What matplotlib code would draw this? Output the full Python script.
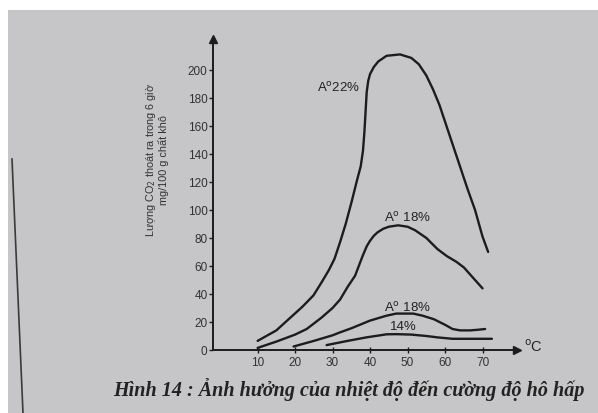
import numpy as np
import matplotlib
matplotlib.use('Agg')
import matplotlib.pyplot as plt
from matplotlib.patches import Rectangle
from matplotlib.lines import Line2D

# data (temperature in oC, CO2 in mg/100 g)
t_a22 = [10, 15, 18.7, 22, 24.9, 27, 29, 30.5, 32, 33.5, 35.1, 36.5, 37.5, 38.1, 38.5, 38.8, 39.1,
         39.5, 40, 41, 42.2, 44.4, 48, 51, 53, 55, 56.8, 58.5, 60, 61.5, 63, 64.5, 66, 68, 70, 71.5]
co2_a22 = [6.5, 14, 23, 31, 39, 48, 57, 65, 77, 90, 106, 121, 131, 142, 156, 170, 184,
           192, 197, 202, 206, 210, 211, 208.5, 204, 196, 186, 175, 163, 151, 139, 127, 115, 100, 81, 70]

t_a18 = [10, 15, 20, 23.1, 27, 30, 32, 34, 36, 37, 38, 39.1, 40, 41, 42, 43.5, 45, 47.5, 50, 52,
         55, 58, 60.5, 63, 65, 67, 70]
co2_a18 = [1.5, 6, 11, 15, 23, 30, 36, 45, 53, 60, 67, 74, 78, 81.5, 84, 86.5, 88, 89, 88, 85.5,
           80, 72, 67, 63, 59, 53, 44]

t_a18b = [19.6, 25, 30, 32, 35, 40, 44.4, 47, 51.5, 54, 57, 60, 62, 64, 66.7, 69, 70.7]
co2_a18b = [2.5, 6.5, 10.5, 12.6, 15.5, 21, 24.5, 26, 26, 24.5, 22, 18, 15, 14, 14, 14.5, 15]

t_14 = [28.4, 34, 39, 44.4, 47, 51, 55, 58, 62, 67, 72.5]
co2_14 = [3.5, 6.5, 9, 11.2, 11.3, 11, 10, 9, 8, 8, 8]

x_ticks = [10, 20, 30, 40, 50, 60, 70]
y_ticks = [0, 20, 40, 60, 80, 100, 120, 140, 160, 180, 200]

paper = '#c6c6c8'
ink = '#1c1c1c'

plt.rcParams['font.family'] = ['Liberation Sans', 'DejaVu Sans']

fig = plt.figure(figsize=(5.98, 4.14), dpi=100, facecolor='white')

# photographed page
fig.patches.append(Rectangle((8 / 598, 0), 1, 1 - 11 / 414, transform=fig.transFigure,
                             facecolor=paper, edgecolor='none', zorder=-10))
fig.lines.append(Line2D([12 / 598, 23 / 598], [1 - 160 / 414, 0], transform=fig.transFigure,
                        color='#3a3a3a', lw=1.2))

ax = fig.add_axes([213 / 598, 63 / 414, 304 / 598, 311 / 414])
ax.set_facecolor('none')
ax.set_xlim(-1.9, 79.2)
ax.set_ylim(0, 222)

for x, y in [(t_a22, co2_a22), (t_a18, co2_a18), (t_a18b, co2_a18b), (t_14, co2_14)]:
    ax.plot(x, y, color=ink, lw=1.7, solid_capstyle='round', solid_joinstyle='round', clip_on=False)

ax.spines['top'].set_visible(False)
ax.spines['right'].set_visible(False)
ax.spines['left'].set_color(ink)
ax.spines['bottom'].set_color(ink)
ax.spines['left'].set_linewidth(1.4)
ax.spines['bottom'].set_linewidth(1.4)

# arrow heads
ax.plot(1, 0, '>', color=ink, ms=6, transform=ax.transAxes, clip_on=False)
ax.plot(0, 1, '^', color=ink, ms=6, transform=ax.transAxes, clip_on=False)

ax.set_xticks(x_ticks)
ax.set_yticks(y_ticks)
ax.tick_params(axis='x', direction='inout', length=4, width=1, colors=ink, labelcolor='#333333',
               labelsize=8.5, pad=2)
ax.tick_params(axis='y', direction='out', length=3, width=1, colors=ink, labelcolor='#333333',
               labelsize=8.5, pad=1)

ax.set_ylabel('Lượng CO$_2$ thoát ra trong 6 giờ\nmg/100 g chất khô', fontsize=7.8,
              color='#333333', linespacing=1.0)
ax.yaxis.set_label_coords(-0.145, 0.614)

lab = dict(fontsize=9.5, color='#222222', ha='center', va='center')
ax.text(31.5, 188, 'A$^{\\mathrm{o}}$22%', **lab)
ax.text(50, 95, 'A$^{\\mathrm{o}}$ 18%', **lab)
ax.text(50, 31, 'A$^{\\mathrm{o}}$ 18%', **lab)
ax.text(49, 17, '14%', **lab)
ax.text(83.5, 3, '$^{\\mathrm{o}}$C', fontsize=10.5, color='#222222', ha='center', va='center')

fig.text(349 / 598, 1 - 390 / 414, 'Hình 14 : Ảnh hưởng của nhiệt độ đến cường độ hô hấp',
         family=['Liberation Serif', 'DejaVu Serif'], style='italic', weight='bold',
         fontsize=14.5, color='#222222', ha='center', va='center')

fig.savefig('out.png', dpi=100, facecolor='white')
